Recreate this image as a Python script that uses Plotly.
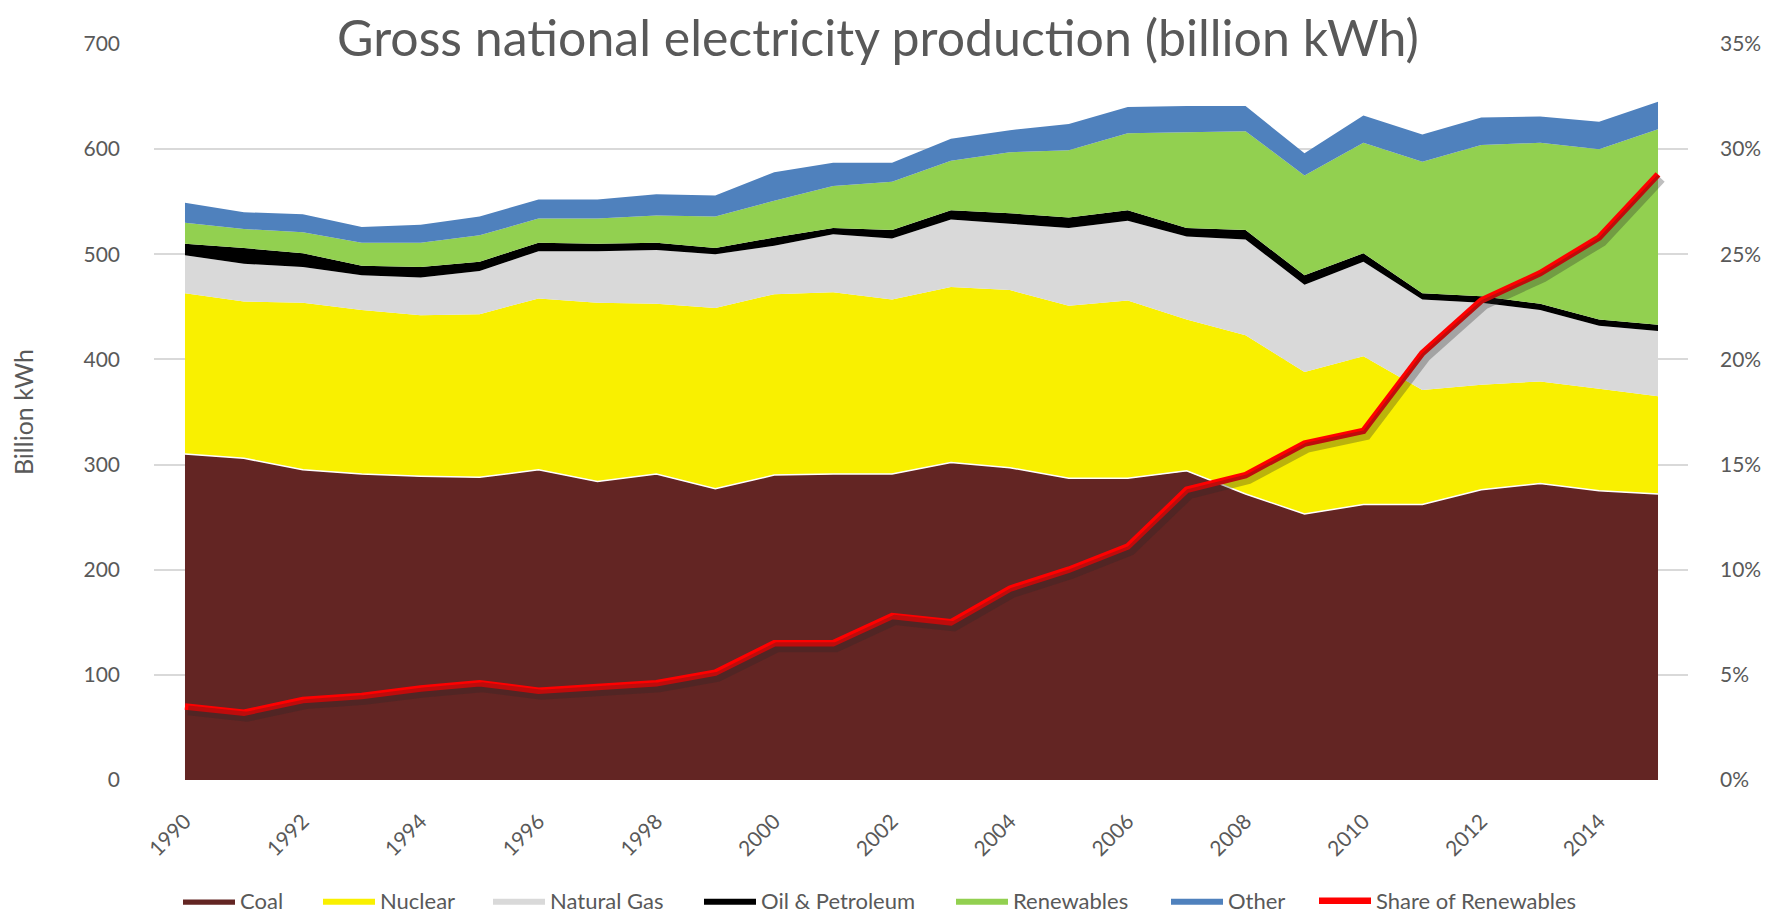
import plotly.graph_objects as go

years = list(range(1990, 2016))

coal = [310, 306, 295, 291, 289, 288, 295, 284, 291, 277, 290, 291, 291,
        302, 297, 287, 287, 294, 272, 253, 262, 262, 276, 282, 275, 272]
nuclear = [153, 149, 159, 156, 153, 155, 163, 170, 162, 172, 172, 173, 166,
           167, 169, 164, 169, 144, 151, 135, 141, 109, 100, 97, 97, 93]
natural_gas = [36, 36, 34, 33, 36, 41, 45, 49, 51, 51, 46, 55, 58,
               64, 63, 74, 76, 79, 91, 83, 90, 86, 78, 68, 60, 62]
oil = [11, 15, 13, 9, 10, 9, 8, 7, 7, 6, 8, 6, 8,
       9, 10, 10, 10, 8, 9, 9, 8, 6, 6, 6, 6, 6]
renewables = [20, 18, 20, 22, 23, 25, 23, 24, 26, 30, 35, 40, 46,
              47, 58, 64, 73, 91, 94, 95, 105, 125, 144, 153, 162, 186]
other = [19, 16, 17, 15, 17, 18, 18, 18, 20, 20, 27, 22, 18,
         21, 21, 25, 25, 25, 24, 21, 26, 26, 26, 25, 26, 26]
share_renewables = [3.5, 3.2, 3.8, 4.0, 4.35, 4.6, 4.25, 4.4, 4.6, 5.1, 6.5, 6.5, 7.8,
                    7.5, 9.1, 10.0, 11.1, 13.8, 14.5, 16.0, 16.6, 20.3, 22.8, 24.1, 25.8, 28.8]

tick_years = list(range(1990, 2015, 2))

GREY = "#595959"
FONT = "Lato"

layers = [
    ("Coal", coal, "#632523"),
    ("Nuclear", nuclear, "#F9F000"),
    ("Natural Gas", natural_gas, "#D9D9D9"),
    ("Oil & Petroleum", oil, "#000000"),
    ("Renewables", renewables, "#92D050"),
    ("Other", other, "#4F81BD"),
]

# left edge (px) of each legend swatch, one legend box per entry
legend_px = [184, 324, 494, 705, 957, 1172, 1320]
legend_ids = ["legend"] + [f"legend{i}" for i in range(2, 8)]

fig = go.Figure()

for i, (name, vals, color) in enumerate(layers):
    fig.add_trace(go.Scatter(
        x=years, y=vals, name=name, stackgroup="one", mode="lines",
        line=dict(width=1.5 if name == "Coal" else 0, color="white" if name == "Coal" else color),
        fillcolor=color, legend=legend_ids[i],
    ))

# soft shadow under the share line (drawn on slightly shifted axes)
fig.add_trace(go.Scatter(
    x=years, y=share_renewables, mode="lines", showlegend=False, hoverinfo="skip",
    line=dict(color="rgba(40,40,40,0.3)", width=10),
    xaxis="x2", yaxis="y3",
))
fig.add_trace(go.Scatter(
    x=years, y=share_renewables, name="Share of Renewables", mode="lines",
    line=dict(color="#FF0000", width=6.5),
    yaxis="y2", legend=legend_ids[6],
))

x_range = [1989.474, 2015.509]
px_yr = (1680 - 146) / (x_range[1] - x_range[0])
px_pct = (772 - 36) / 35.0
dx = 3 / px_yr
dy = 4 / px_pct

legend_style = dict(
    orientation="h", xref="container", yref="container",
    y=1 - 893 / 916, yanchor="middle", xanchor="left",
    font=dict(family=FONT, size=22, color=GREY), itemwidth=52,
    bgcolor="rgba(0,0,0,0)",
)
legends = {lid: dict(legend_style, x=(px - 14) / 1772) for lid, px in zip(legend_ids, legend_px)}

fig.update_layout(
    width=1772, height=916,
    margin=dict(l=146, r=92, t=36, b=144, autoexpand=False),
    paper_bgcolor="white", plot_bgcolor="white",
    font=dict(family=FONT, color=GREY, size=20),
    title=dict(
        text="Gross national electricity production (billion kWh)",
        x=870 / 1772, xref="container", xanchor="center",
        y=1 - 30 / 916, yref="container", yanchor="middle",
        font=dict(family=FONT, size=50, color=GREY),
    ),
    xaxis=dict(
        range=x_range, tickvals=tick_years, ticktext=[str(y) for y in tick_years],
        tickangle=-45, showgrid=False, zeroline=False, showline=False,
        ticks="", ticklabelstandoff=24, tickfont=dict(size=21, color=GREY),
        automargin=False,
    ),
    xaxis2=dict(range=[x_range[0] - dx, x_range[1] - dx], overlaying="x",
                visible=False),
    yaxis=dict(
        range=[0, 700], dtick=100, showgrid=True, gridcolor="#D9D9D9", gridwidth=1.5,
        zeroline=False, showline=False, ticks="", ticklabelstandoff=33,
        tickfont=dict(size=21, color=GREY), automargin=False,
        title=dict(text="Billion kWh", font=dict(size=25, color=GREY), standoff=44),
    ),
    yaxis2=dict(
        range=[0, 35], dtick=5, ticksuffix="%", overlaying="y", side="right",
        showgrid=False, zeroline=False, showline=False, ticks="",
        ticklabelstandoff=31, tickfont=dict(size=21, color=GREY), automargin=False,
    ),
    yaxis3=dict(range=[dy, 35 + dy], overlaying="y", visible=False),
    showlegend=True,
    **legends,
)

fig.write_html("out.html")
